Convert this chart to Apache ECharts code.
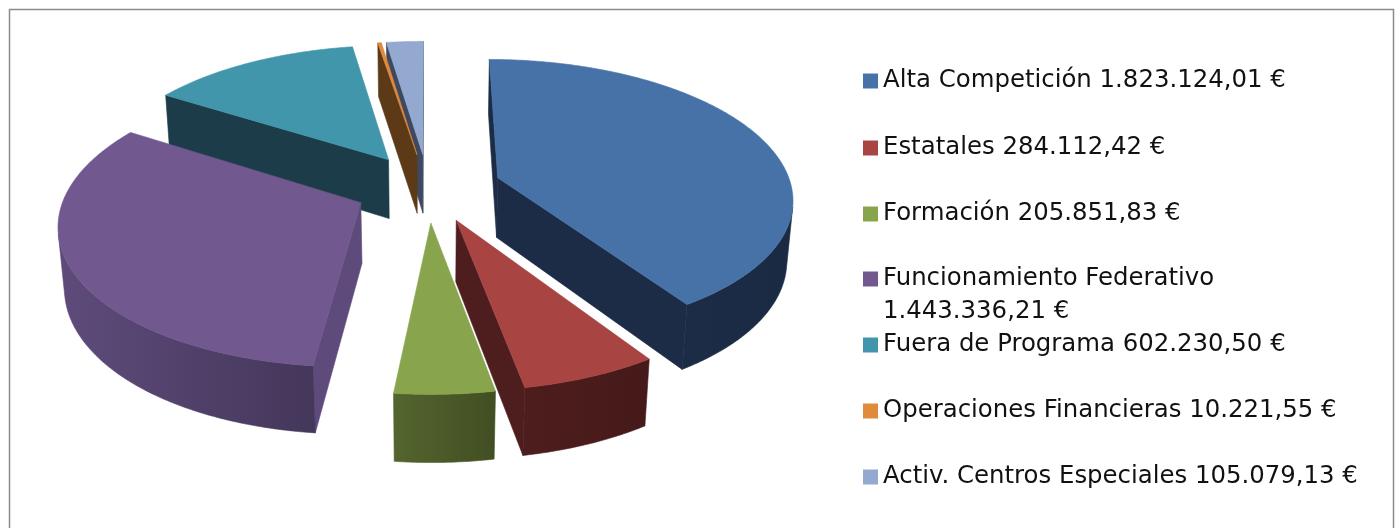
<!DOCTYPE html>
<html>
<head>
<meta charset="utf-8">
<script src="https://cdn.jsdelivr.net/npm/echarts@6/dist/echarts.min.js"></script>
<style>
  html, body { margin: 0; padding: 0; background: #fff; }
  #main { width: 1398px; height: 528px; }
</style>
</head>
<body>
<div id="main"></div>
<script>
// datos del gráfico
const categories = ['Alta Competición', 'Estatales', 'Formación', 'Funcionamiento Federativo',
  'Fuera de Programa', 'Operaciones Financieras', 'Activ. Centros Especiales'];
const values = [1823124.01, 284112.42, 205851.83, 1443336.21, 602230.50, 10221.55, 105079.13];

// colores: cara superior, lateral claro, lateral oscuro
const topColors = ['#4672a8', '#a84543', '#88a44c', '#71588e', '#4196ab', '#e08a3c', '#94a9cf'];
const sideColors = ['#1c2c46', '#4e1d1d', '#54652f', '#5e4b7b', '#1b3c48', '#5c3a18', '#3d4861'];
const sideDark = ['#1b2a43', '#461a1a', '#414e22', '#44375a', '#1b3c48', '#5c3a18', '#3d4861'];

// vista 3D (perspectiva tipo Excel)
const view = { cx: 428, cy: 187.5, f: 1890, dist: 6.43, tilt: 27.8, thick: 0.235, explode: 0.25 };
const sinT = Math.sin(view.tilt * Math.PI / 180);
const cosT = Math.cos(view.tilt * Math.PI / 180);
const cam = [0, view.dist * sinT, view.dist * cosT];

const total = values.reduce((s, v) => s + v, 0);
const starts = [];
let acc = 0;
values.forEach(v => { starts.push(acc); acc += v; });

function project(p) {
  const d = view.dist - p[1] * sinT - p[2] * cosT;
  const w = p[1] * cosT - p[2] * sinT;
  return [view.cx + view.f * p[0] / d, view.cy - view.f * w / d];
}
function facing(n, p) {
  return n[0] * (cam[0] - p[0]) + n[1] * (cam[1] - p[1]) + n[2] * (cam[2] - p[2]) > 0;
}
function angles(i, value) {
  const a0 = starts[i] / total * 2 * Math.PI;
  const a1 = (starts[i] + value) / total * 2 * Math.PI;
  return [a0, a1];
}

// orden de pintado: porciones del fondo primero
const zRank = [];
values.map((v, i) => {
  const [a0, a1] = angles(i, v);
  const mid = (a0 + a1) / 2, half = (a1 - a0) / 2;
  const cd = half > 0 ? (2 / 3) * Math.sin(half) / half : 0;
  return { i, z: -(view.explode + cd) * Math.cos(mid) };
}).sort((a, b) => a.z - b.z).forEach((o, r) => { zRank[o.i] = r; });

function poly(points, fill, z2) {
  return { type: 'polygon', z2: z2, shape: { points: points },
    style: { fill: fill, stroke: fill, lineWidth: 0.6 } };
}

function renderSlice(i, params, api) {
  const value = api.value(0);
  const [a0, a1] = angles(i, value);
  const mid = (a0 + a1) / 2;
  const ox = view.explode * Math.sin(mid), oz = -view.explode * Math.cos(mid);
  const h = view.thick;
  const rim = (phi, y) => [ox + Math.sin(phi), y, oz - Math.cos(phi)];
  const apexT = [ox, 0, oz], apexB = [ox, -h, oz];
  const n = Math.max(2, Math.ceil((a1 - a0) / (Math.PI / 360)));
  const phis = [];
  for (let k = 0; k <= n; k++) phis.push(a0 + (a1 - a0) * k / n);
  const z0 = zRank[i] * 10;
  const children = [];

  // caras de corte
  [
    { n: [-Math.cos(a0), 0, -Math.sin(a0)], pts: [apexT, rim(a0, 0), rim(a0, -h), apexB] },
    { n: [Math.cos(a1), 0, Math.sin(a1)], pts: [apexT, rim(a1, 0), rim(a1, -h), apexB] }
  ].forEach(fc => {
    if (facing(fc.n, fc.pts[1])) children.push(poly(fc.pts.map(project), sideColors[i], z0 + 1));
  });

  // pared exterior visible
  const grad = new echarts.graphic.LinearGradient(0, 0, 1, 0, [
    { offset: 0, color: sideColors[i] }, { offset: 1, color: sideDark[i] }]);
  let run = [];
  const flush = () => {
    if (run.length > 1) {
      const top = run.map(p => project(rim(p, 0)));
      const bot = run.map(p => project(rim(p, -h))).reverse();
      children.push(poly(top.concat(bot), grad, z0 + 2));
    }
    run = [];
  };
  for (let k = 0; k < n; k++) {
    const pm = (phis[k] + phis[k + 1]) / 2;
    if (facing([Math.sin(pm), 0, -Math.cos(pm)], rim(pm, -h / 2))) {
      if (!run.length) run.push(phis[k]);
      run.push(phis[k + 1]);
    } else flush();
  }
  flush();

  // cara superior
  children.push(poly([project(apexT)].concat(phis.map(p => project(rim(p, 0)))), topColors[i], z0 + 3));
  return { type: 'group', children: children };
}

function fmtEuro(v) {
  const parts = v.toFixed(2).split('.');
  return parts[0].replace(/\B(?=(\d{3})+(?!\d))/g, '.') + ',' + parts[1] + ' €';
}

const legendCenters = [81, 148, 214, 279, 345, 411, 477];
const lineH = 33;
const wrapped = 3; // esta entrada ocupa dos líneas

const chart = echarts.init(document.getElementById('main'));
chart.setOption({
  backgroundColor: '#fff',
  animation: false,
  graphic: [{
    type: 'rect', silent: true,
    shape: { x: 9.5, y: 9.5, width: 1384, height: 540 },
    style: { fill: 'none', stroke: '#8c8c8c', lineWidth: 1.5 }
  }],
  legend: categories.map((name, i) => ({
    data: [name],
    orient: 'vertical',
    left: 863,
    top: legendCenters[i] - (i === wrapped ? lineH * 1.5 : lineH / 2),
    padding: 0,
    icon: 'rect',
    itemWidth: 15,
    itemHeight: 15,
    selectedMode: false,
    formatter: n => {
      const v = fmtEuro(values[categories.indexOf(n)]);
      return i === wrapped ? '\n' + n + '\n' + v : n + ' ' + v;
    },
    textStyle: {
      fontFamily: 'DejaVu Sans', fontSize: 24.4, color: '#111', lineHeight: lineH
    }
  })),
  series: categories.map((name, i) => ({
    type: 'custom',
    name: name,
    coordinateSystem: 'none',
    color: topColors[i],
    itemStyle: { color: topColors[i] },
    data: [[values[i]]],
    renderItem: (params, api) => renderSlice(i, params, api)
  }))
});
</script>
</body>
</html>
